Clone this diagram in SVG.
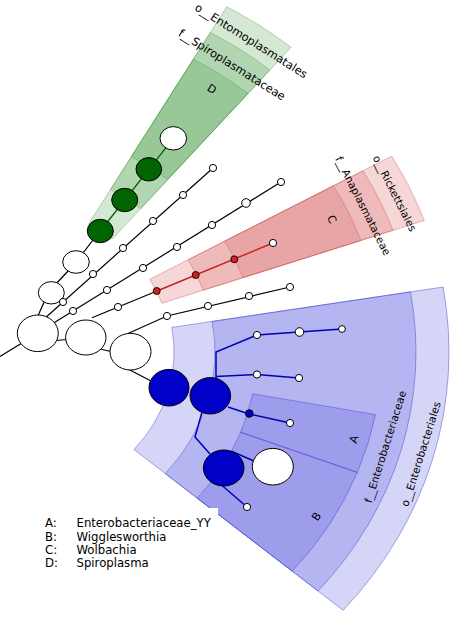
<svg xmlns="http://www.w3.org/2000/svg" width="454" height="619" viewBox="0 0 454 619">
<style>
.sg{fill:#3c963c;fill-opacity:.22;stroke:#3c963c;stroke-opacity:.35;stroke-width:1}
.sr{fill:#dc7070;fill-opacity:.28;stroke:#d05050;stroke-opacity:.4;stroke-width:1}
.sb{fill:#5858e0;fill-opacity:.25;stroke:#4040d0;stroke-opacity:.45;stroke-width:1}
.e{fill:none;stroke:#000;stroke-width:1.2}
.eg{fill:none;stroke:#006400;stroke-width:1.3}
.er{fill:none;stroke:#c81e1e;stroke-width:1.4}
.eb{fill:none;stroke:#0000b8;stroke-width:1.5}
.w{fill:#fff;stroke:#000;stroke-width:1}
.gn{fill:#006400;stroke:#000;stroke-width:1}
.bn{fill:#0000c8;stroke:#000;stroke-width:1}
.rn{fill:#d42020;stroke:#000;stroke-width:.9}
text{font-family:"DejaVu Sans","Liberation Sans",sans-serif;fill:#000}
.lab{text-anchor:middle;dominant-baseline:central}
.lg{font-size:11.7px}
</style>
<g id="sectors" transform="translate(7,352) scale(1,0.9)">
  <g id="sector-green">
    <path class="sg" vector-effect="non-scaling-stroke" d="M81.5,-142.3 L219.7,-383.6 A442,442 0 0 1 284.1,-338.6 L105.4,-125.6 A164,164 0 0 0 81.5,-142.3Z"/>
    <path class="sg" vector-effect="non-scaling-stroke" d="M103.4,-180.5 L203.3,-354.9 A409,409 0 0 1 262.9,-313.3 L133.7,-159.3 A208,208 0 0 0 103.4,-180.5Z"/>
    <path class="sg" vector-effect="non-scaling-stroke" d="M124.3,-217.0 L186.4,-325.4 A375,375 0 0 1 241.1,-287.3 L160.7,-191.5 A250,250 0 0 0 124.3,-217.0Z"/>
  </g>
  <g id="sector-red">
    <path class="sr" vector-effect="non-scaling-stroke" d="M142.7,-80.8 L384.7,-217.6 A442,442 0 0 1 417.2,-146.1 L154.8,-54.2 A164,164 0 0 0 142.7,-80.8Z"/>
    <path class="sr" vector-effect="non-scaling-stroke" d="M181.0,-102.4 L356.0,-201.4 A409,409 0 0 1 386.0,-135.2 L196.3,-68.7 A208,208 0 0 0 181.0,-102.4Z"/>
    <path class="sr" vector-effect="non-scaling-stroke" d="M217.6,-123.1 L326.4,-184.7 A375,375 0 0 1 353.9,-123.9 L236.0,-82.6 A250,250 0 0 0 217.6,-123.1Z"/>
  </g>
  <g id="sector-blue">
    <path class="sb" vector-effect="non-scaling-stroke" d="M164.8,-27.3 L436.1,-72.2 A442,442 0 0 1 336.1,287.0 L127.0,108.4 A167,167 0 0 0 164.8,-27.3Z"/>
    <path class="sb" vector-effect="non-scaling-stroke" d="M205.2,-34.0 L403.5,-66.8 A409,409 0 0 1 311.0,265.6 L158.2,135.1 A208,208 0 0 0 205.2,-34.0Z"/>
    <path class="sb" vector-effect="non-scaling-stroke" d="M245.7,46.4 L368.5,69.6 A375,375 0 0 1 350.3,133.8 L233.6,89.2 A250,250 0 0 0 245.7,46.4Z"/>
    <path class="sb" vector-effect="non-scaling-stroke" d="M233.6,89.2 L350.3,133.8 A375,375 0 0 1 285.2,243.5 L190.1,162.4 A250,250 0 0 0 233.6,89.2Z"/>
  </g>
</g>
<g id="connectors">
  <path class="e" d="M0,356.5 L22,343"/>
  <path class="e" d="M37,318 L45,300"/>
  <path class="e" d="M44,319 L213,168"/>
  <path class="e" d="M50,325.3 L281,182"/>
  <path class="e" d="M56,340.5 L67,339.5"/>
  <path class="e" d="M54,286 L69,270"/>
  <path class="e" d="M80,257 L96,236"/>
  <path class="eg" d="M100.3,231 L173.3,138.3"/>
  <path class="e" d="M92,317.7 L157,291"/>
  <path class="er" d="M157,291 L273,243"/>
  <path class="e" d="M100,349 L113,352"/>
  <path class="e" d="M128,333.5 L167,316 L290,287"/>
  <path class="e" d="M128,369 L151,381"/>
  <path class="eb" d="M216,379 L216,352 L257,335 L299,332 L342,329"/>
  <path class="eb" d="M216,376.5 L257,374.5 L299,378"/>
  <path class="eb" d="M228,407 L249,414 L290,423"/>
  <path class="eb" d="M202,412 L195,437 L210,454"/>
  <path class="eb" d="M232,451.5 L262,464.5"/>
  <path class="eb" d="M218,482 L247,507"/>
</g>
<g id="nodes">
  <g id="n-root"><ellipse class="w" cx="37.8" cy="333.3" rx="20.5" ry="18.3"/></g>
  <g id="n-c2"><ellipse class="w" cx="51.3" cy="292.8" rx="13" ry="11.2"/></g>
  <g id="n-c3"><ellipse class="w" cx="76" cy="262" rx="13.3" ry="11.3"/></g>
  <g id="n-g1"><ellipse class="gn" cx="100.3" cy="231" rx="13" ry="11.7"/></g>
  <g id="n-g2"><ellipse class="gn" cx="124.7" cy="200" rx="13" ry="11.7"/></g>
  <g id="n-g3"><ellipse class="gn" cx="148.8" cy="169.3" rx="12.8" ry="11.7"/></g>
  <g id="n-gw"><ellipse class="w" cx="173.3" cy="138.3" rx="13.3" ry="11.7"/></g>
  <g id="n-c2big"><ellipse class="w" cx="85.8" cy="337.5" rx="20.2" ry="17.5"/></g>
  <g id="n-c3big"><ellipse class="w" cx="130.5" cy="351.7" rx="20.5" ry="18.3"/></g>
  <g id="n-b1"><ellipse class="bn" cx="169" cy="387.7" rx="20" ry="18.3"/></g>
  <g id="n-b2"><ellipse class="bn" cx="210.3" cy="395.8" rx="20.3" ry="18.2"/></g>
  <g id="n-b3"><ellipse class="bn" cx="223.7" cy="468" rx="20.3" ry="18"/></g>
  <g id="n-bw"><ellipse class="w" cx="272.8" cy="466.7" rx="20.5" ry="18.3"/></g>
  <g id="n-l1a"><circle class="w" cx="63" cy="302" r="3.6"/></g>
  <g id="n-l1b"><circle class="w" cx="93" cy="274" r="3.6"/></g>
  <g id="n-l1c"><circle class="w" cx="123" cy="248" r="3.6"/></g>
  <g id="n-l1d"><circle class="w" cx="153" cy="221" r="3.6"/></g>
  <g id="n-l1e"><circle class="w" cx="183" cy="195" r="3.6"/></g>
  <g id="n-l1f"><circle class="w" cx="213" cy="168" r="3.6"/></g>
  <g id="n-l2a"><circle class="w" cx="73" cy="311" r="3.6"/></g>
  <g id="n-l2b"><circle class="w" cx="107" cy="290" r="3.6"/></g>
  <g id="n-l2c"><circle class="w" cx="143" cy="268" r="3.6"/></g>
  <g id="n-l2d"><circle class="w" cx="177" cy="247" r="3.6"/></g>
  <g id="n-l2e"><circle class="w" cx="212" cy="225" r="3.6"/></g>
  <g id="n-l2f"><circle class="w" cx="246" cy="203" r="4.3"/></g>
  <g id="n-l2g"><circle class="w" cx="281" cy="182" r="3.6"/></g>
  <g id="n-l3a"><circle class="w" cx="118" cy="307" r="3.6"/></g>
  <g id="n-r1"><circle class="rn" cx="156.7" cy="291" r="3.5"/></g>
  <g id="n-r2"><circle class="rn" cx="195.7" cy="275" r="3.5"/></g>
  <g id="n-r3"><circle class="rn" cx="234.3" cy="259.3" r="3.5"/></g>
  <g id="n-r4"><circle class="w" cx="273" cy="243" r="3.6"/></g>
  <g id="n-l4a"><circle class="w" cx="167" cy="316" r="3.6"/></g>
  <g id="n-l4b"><circle class="w" cx="208" cy="306" r="3.6"/></g>
  <g id="n-l4c"><circle class="w" cx="249" cy="296" r="3.6"/></g>
  <g id="n-l4d"><circle class="w" cx="290" cy="287" r="3.6"/></g>
  <g id="n-bu1"><circle class="w" cx="257" cy="335" r="3.6"/></g>
  <g id="n-bu2"><circle class="w" cx="299.5" cy="332" r="4.3"/></g>
  <g id="n-bu3"><circle class="w" cx="342" cy="329" r="3.4"/></g>
  <g id="n-bm1"><circle class="w" cx="257" cy="374.5" r="3.6"/></g>
  <g id="n-bm2"><circle class="w" cx="299" cy="378" r="3.6"/></g>
  <g id="n-ba1"><circle class="bn" cx="249.3" cy="413.5" r="3.8"/></g>
  <g id="n-ba2"><circle class="w" cx="290" cy="423" r="3.6"/></g>
  <g id="n-bb2"><circle class="w" cx="247" cy="507" r="3.6"/></g>
</g>
<g id="labels">
  <text class="lab" font-size="11.3" transform="translate(251,41) rotate(32.1)">o__Entomoplasmatales</text>
  <text class="lab" font-size="11.3" transform="translate(231.7,65) rotate(32.1)">f__Spiroplasmataceae</text>
  <text class="lab" font-size="11" transform="translate(211.7,89.3) rotate(32.1)">D</text>
  <text class="lab" font-size="10.6" transform="translate(395,193.3) rotate(63.2)">o__Rickettsiales</text>
  <text class="lab" font-size="10.6" transform="translate(363.3,205.7) rotate(63.2)">f__Anaplasmataceae</text>
  <text class="lab" font-size="11" transform="translate(331.7,219.3) rotate(63.2)">C</text>
  <text class="lab" font-size="10.5" transform="translate(385,446.7) rotate(-72.5)">f__Enterobacteriaceae</text>
  <text class="lab" font-size="10.5" transform="translate(420.7,454) rotate(-72.5)">o__Enterobacteriales</text>
  <text class="lab" font-size="11" transform="translate(354,439.3) rotate(-72.5)">A</text>
  <text class="lab" font-size="11" transform="translate(316.7,516.7) rotate(-56.7)">B</text>
</g>
<g id="legend">
  <rect x="0" y="508" width="218" height="111" fill="#fff"/>
  <text class="lg" x="45" y="527.3">A:</text><text class="lg" x="76.5" y="527.3">Enterobacteriaceae_YY</text>
  <text class="lg" x="45" y="540.7">B:</text><text class="lg" x="76.5" y="540.7">Wigglesworthia</text>
  <text class="lg" x="45" y="554">C:</text><text class="lg" x="76.5" y="554">Wolbachia</text>
  <text class="lg" x="45" y="567.3">D:</text><text class="lg" x="76.5" y="567.3">Spiroplasma</text>
</g>
</svg>
